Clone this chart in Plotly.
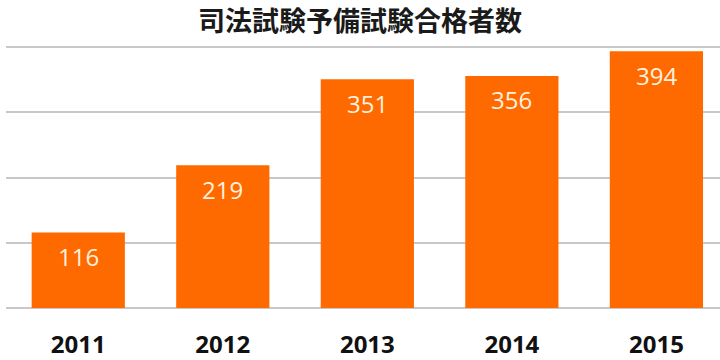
import plotly.graph_objects as go

years = ["2011", "2012", "2013", "2014", "2015"]
passers = [116, 219, 351, 356, 394]
title_text = "司法試験予備試験合格者数"

bar_color = "#FF6A00"
label_color = "#FFF1DE"

fig = go.Figure()
fig.add_trace(go.Bar(
    x=years, y=passers,
    marker=dict(color=bar_color, line=dict(width=0)),
    width=0.645,
    hoverinfo="skip",
))

for i, v in enumerate(passers):
    fig.add_annotation(
        x=i, y=v, xref="x", yref="y",
        text=str(v), showarrow=False,
        yanchor="middle", yshift=-24,
        font=dict(family="Open Sans", size=24, color=label_color),
    )

fig.update_layout(
    width=720, height=360,
    margin=dict(l=6, r=0, t=44, b=52),
    paper_bgcolor="white", plot_bgcolor="white",
    showlegend=False,
    title=dict(
        text=title_text,
        x=0.5, xanchor="center",
        y=1 - 22 / 360, yref="container", yanchor="middle",
        font=dict(family="Noto Sans CJK JP", size=27, color="#1a1a1a", weight="bold"),
    ),
    xaxis=dict(
        type="category",
        range=[-0.5, 4.44],
        showgrid=False, zeroline=False, showline=False,
        ticks="",
        ticklabelstandoff=20,
        tickfont=dict(family="Open Sans", size=24, color="#111111", weight="bold"),
    ),
    yaxis=dict(
        range=[0, 405],
        tickmode="array", tickvals=[0, 100, 200, 300, 400],
        showgrid=True, gridcolor="#C8C8C8", gridwidth=1.5,
        zeroline=True, zerolinecolor="#C8C8C8", zerolinewidth=1.5,
        showline=False, showticklabels=False, ticks="",
    ),
)

fig.write_html("out.html")
